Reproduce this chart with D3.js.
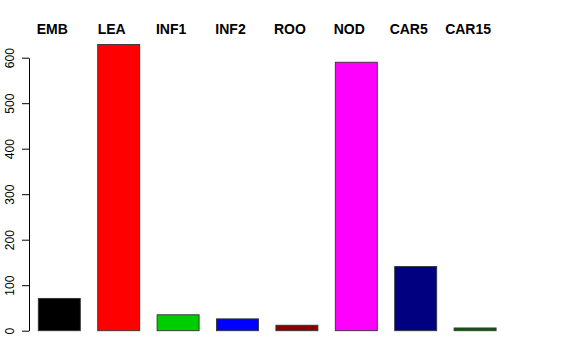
<!DOCTYPE html>
<html>
<head>
<meta charset="utf-8">
<script src="https://cdn.jsdelivr.net/npm/d3@7"></script>
<style>
  body { margin: 0; background: #fff; }
  svg { display: block; font-family: "Liberation Sans", Arial, Helvetica, sans-serif; }
</style>
</head>
<body>
<div id="chart"></div>
<script>
// data
var categories = ['EMB', 'LEA', 'INF1', 'INF2', 'ROO', 'NOD', 'CAR5', 'CAR15'];
var counts = [71, 629, 35, 26, 12, 590, 141, 6];
var colors = ['#000000', '#FF0000', '#00CD00', '#0000FF', '#8B0000', '#FF00FF', '#000080', '#006400'];
var yTicks = [0, 100, 200, 300, 400, 500, 600];

var width = 576, height = 360;

var svg = d3.select('#chart').append('svg')
    .attr('width', width)
    .attr('height', height);

// scales
var x = d3.scaleBand()
    .domain(categories)
    .range([29.6, 504.8])
    .paddingInner(0.293)
    .paddingOuter(0.1465);

var y = d3.scaleLinear()
    .domain([0, 600])
    .range([330.7, 57.7]);

// bars
svg.append('g')
    .selectAll('rect')
    .data(categories)
    .enter()
    .append('rect')
    .attr('x', d => x(d))
    .attr('y', (d, i) => y(counts[i]))
    .attr('width', x.bandwidth())
    .attr('height', (d, i) => y(0) - y(counts[i]))
    .attr('fill', (d, i) => colors[i])
    .attr('stroke', '#333')
    .attr('stroke-width', 0.9);

// labels above the plot
svg.append('g')
    .selectAll('text')
    .data(categories)
    .enter()
    .append('text')
    .attr('x', d => x(d) + x.bandwidth() / 2 - 7)
    .attr('y', 34)
    .attr('text-anchor', 'middle')
    .attr('font-size', 14)
    .attr('font-weight', 'bold')
    .text(d => d);

// y axis, R style
var axis = svg.append('g')
    .attr('transform', 'translate(29,0)')
    .call(d3.axisLeft(y).tickValues(yTicks).tickSize(7).tickSizeOuter(0).tickPadding(0));

axis.select('.domain').attr('stroke', '#000');
axis.selectAll('.tick line').attr('stroke', '#000');
axis.selectAll('.tick text')
    .attr('font-size', 12)
    .attr('font-family', '"Liberation Sans", Arial, sans-serif')
    .attr('fill', '#000')
    .attr('text-anchor', 'middle')
    .attr('transform', 'translate(-15.5,0) rotate(-90)')
    .attr('x', 0)
    .attr('y', 0)
    .attr('dy', 0);
</script>
</body>
</html>
